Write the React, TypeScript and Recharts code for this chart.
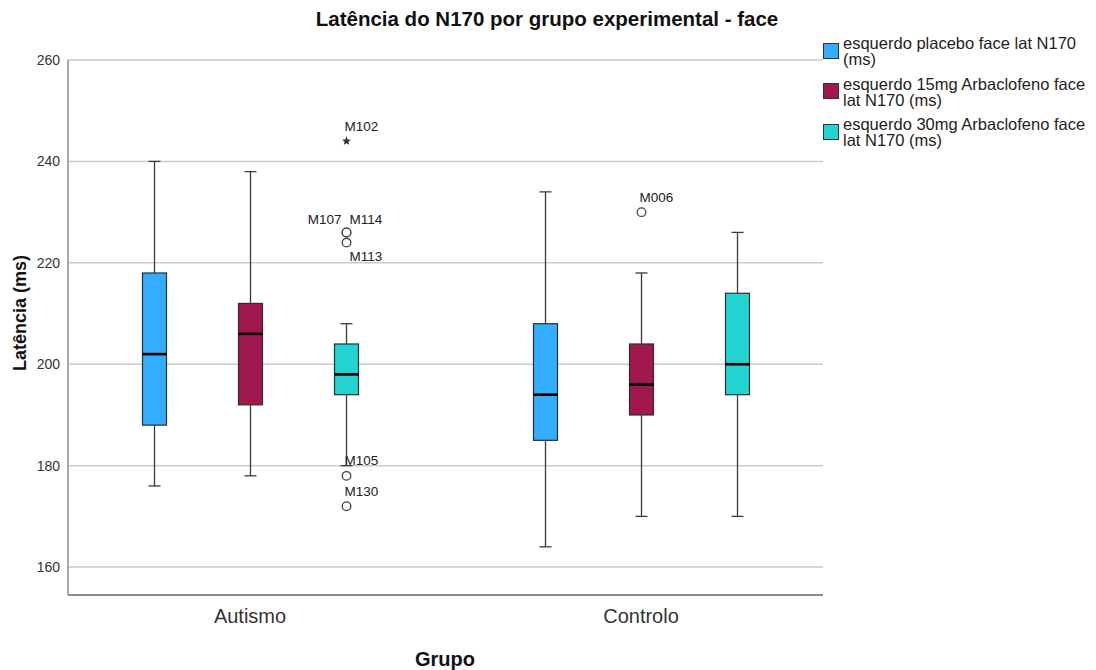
import React from 'react';
import { ComposedChart, Bar, XAxis, YAxis, CartesianGrid } from 'recharts';

const FONT = '"Liberation Sans", Arial, Helvetica, sans-serif';

const groups = ['Autismo', 'Controlo'];

const seriesLabels = [
  'esquerdo placebo face lat N170 (ms)',
  'esquerdo 15mg Arbaclofeno face lat N170 (ms)',
  'esquerdo 30mg Arbaclofeno face lat N170 (ms)',
];

const seriesColors = ['#33adff', '#a0184e', '#22d4d0'];

// Five-number summaries per group: [lower whisker, Q1, median, Q3, upper whisker]
const placeboStats = [
  [176, 188, 202, 218, 240],
  [164, 185, 194, 208, 234],
];
const dose15Stats = [
  [178, 192, 206, 212, 238],
  [170, 190, 196, 204, 218],
];
const dose30Stats = [
  [180, 194, 198, 204, 208],
  [170, 194, 200, 214, 226],
];

const yTicks = [160, 180, 200, 220, 240, 260];
const yDomain: [number, number] = [154.5, 260];

type Outlier = { group: string; series: number; id: string; value: number; extreme?: boolean };

const outliers: Outlier[] = [
  { group: 'Autismo', series: 2, id: 'M102', value: 244, extreme: true },
  { group: 'Autismo', series: 2, id: 'M107', value: 226 },
  { group: 'Autismo', series: 2, id: 'M114', value: 226 },
  { group: 'Autismo', series: 2, id: 'M113', value: 224 },
  { group: 'Autismo', series: 2, id: 'M105', value: 178 },
  { group: 'Autismo', series: 2, id: 'M130', value: 172 },
  { group: 'Controlo', series: 1, id: 'M006', value: 230 },
];

const statKeys = ['placebo', 'd15', 'd30'] as const;

const rows = groups.map((group, i) => ({
  group,
  placebo: placeboStats[i],
  d15: dose15Stats[i],
  d30: dose30Stats[i],
}));

// Case-label offsets so overlapping outlier ids stay readable
const labelPlacement: Record<string, { dx: number; dy: number; anchor: 'start' | 'end' }> = {
  M107: { dx: -5, dy: -8, anchor: 'end' },
  M114: { dx: 3, dy: -8, anchor: 'start' },
  M113: { dx: 3, dy: 18, anchor: 'start' },
};
const defaultPlacement = { dx: -2, dy: -10.5, anchor: 'start' as const };

function starPoints(cx: number, cy: number, outer: number, inner: number) {
  const pts: string[] = [];
  for (let i = 0; i < 10; i++) {
    const r = i % 2 === 0 ? outer : inner;
    const a = -Math.PI / 2 + (i * Math.PI) / 5;
    pts.push(`${cx + r * Math.cos(a)},${cy + r * Math.sin(a)}`);
  }
  return pts.join(' ');
}

function BoxPlotMark(props: any) {
  const { x, y, width, height, payload, series, statsKey } = props;
  const [lo, q1, med, q3, hi] = payload[statsKey] as number[];
  // the bar spans Q1..Q3, so its pixel height gives the axis scale
  const k = height / (q3 - q1);
  const toY = (v: number) => y + (q3 - v) * k;
  const cx = x + width / 2;
  const cap = 6;
  const whisker = { stroke: '#3a3a3a', strokeWidth: 1.3 };
  const pts = outliers.filter((o) => o.group === payload.group && o.series === series);
  return (
    <g>
      <line x1={cx} x2={cx} y1={toY(hi)} y2={y} {...whisker} />
      <line x1={cx} x2={cx} y1={y + height} y2={toY(lo)} {...whisker} />
      <line x1={cx - cap} x2={cx + cap} y1={toY(hi)} y2={toY(hi)} {...whisker} />
      <line x1={cx - cap} x2={cx + cap} y1={toY(lo)} y2={toY(lo)} {...whisker} />
      <rect x={x} y={y} width={width} height={height} fill={seriesColors[series]} stroke="#2e2e2e" strokeWidth={1.2} />
      <line x1={x} x2={x + width} y1={toY(med)} y2={toY(med)} stroke="#000" strokeWidth={2.6} />
      {pts.map((o) => {
        const py = toY(o.value);
        const pl = labelPlacement[o.id] || defaultPlacement;
        return (
          <g key={o.id}>
            {o.extreme ? (
              <polygon points={starPoints(cx, py, 4.6, 2)} fill="#333" />
            ) : (
              <circle cx={cx} cy={py} r={4.3} fill="#fff" stroke="#444" strokeWidth={1.3} />
            )}
            <text
              x={cx + pl.dx}
              y={py + pl.dy}
              textAnchor={pl.anchor}
              fontSize={13.5}
              fontFamily={FONT}
              fill="#222"
            >
              {o.id}
            </text>
          </g>
        );
      })}
    </g>
  );
}

const boxShape = (series: number) => (p: any) => (
  <BoxPlotMark {...p} series={series} statsKey={statKeys[series]} />
);

export default function App() {
  return (
    <div style={{ position: 'relative', width: 1088, height: 662, fontFamily: FONT, background: '#fff' }}>
      <ComposedChart
        width={1088}
        height={662}
        data={rows}
        margin={{ top: 52, right: 273, bottom: 45, left: 0 }}
        barSize={24}
        barGap={72}
      >
        <CartesianGrid horizontal vertical={false} syncWithTicks stroke="#cbcbcb" strokeWidth={1.5} />
        <XAxis
          dataKey="group"
          type="category"
          padding={{ left: -13.5, right: -13.5 }}
          tickLine={false}
          tickSize={0}
          tickMargin={14}
          axisLine={{ stroke: '#8c8c8c', strokeWidth: 2 }}
          tick={{ fontSize: 20, fill: '#333', fontFamily: FONT }}
        />
        <YAxis
          type="number"
          domain={yDomain}
          ticks={yTicks}
          allowDataOverflow
          width={60}
          tickLine={false}
          tickSize={0}
          tickMargin={8}
          axisLine={{ stroke: '#8c8c8c', strokeWidth: 1.5 }}
          tick={{ fontSize: 14, fill: '#333', fontFamily: FONT }}
        />
        {statKeys.map((key, i) => (
          <Bar
            key={key}
            dataKey={(r: any) => [r[key][1], r[key][3]]}
            fill={seriesColors[i]}
            isAnimationActive={false}
            shape={boxShape(i)}
          />
        ))}
      </ComposedChart>

      <div
        style={{
          position: 'absolute',
          left: 539,
          top: 11,
          transform: 'translate(-50%, -50%)',
          fontSize: 20.5,
          fontWeight: 'bold',
          color: '#111',
          whiteSpace: 'nowrap',
        }}
      >
        Latência do N170 por grupo experimental - face
      </div>

      <div
        style={{
          position: 'absolute',
          left: 12,
          top: 305,
          transform: 'translate(-50%, -50%) rotate(-90deg)',
          fontSize: 18,
          fontWeight: 'bold',
          color: '#111',
          whiteSpace: 'nowrap',
        }}
      >
        Latência (ms)
      </div>

      <div
        style={{
          position: 'absolute',
          left: 437,
          top: 651,
          transform: 'translate(-50%, -50%)',
          fontSize: 20,
          fontWeight: 'bold',
          color: '#111',
          whiteSpace: 'nowrap',
        }}
      >
        Grupo
      </div>

      <div style={{ position: 'absolute', left: 815, top: 27.4 }}>
        {seriesLabels.map((label, i) => (
          <div key={label} style={{ position: 'relative', height: 40.5 }}>
            <div
              style={{
                position: 'absolute',
                left: 0,
                top: 7.6,
                width: 16,
                height: 16,
                boxSizing: 'border-box',
                background: seriesColors[i],
                border: '1px solid #333',
              }}
            />
            <div
              style={{
                position: 'absolute',
                left: 20,
                top: 0,
                width: 250,
                fontSize: 16.5,
                lineHeight: '16px',
                color: '#222',
              }}
            >
              {label}
            </div>
          </div>
        ))}
      </div>
    </div>
  );
}
